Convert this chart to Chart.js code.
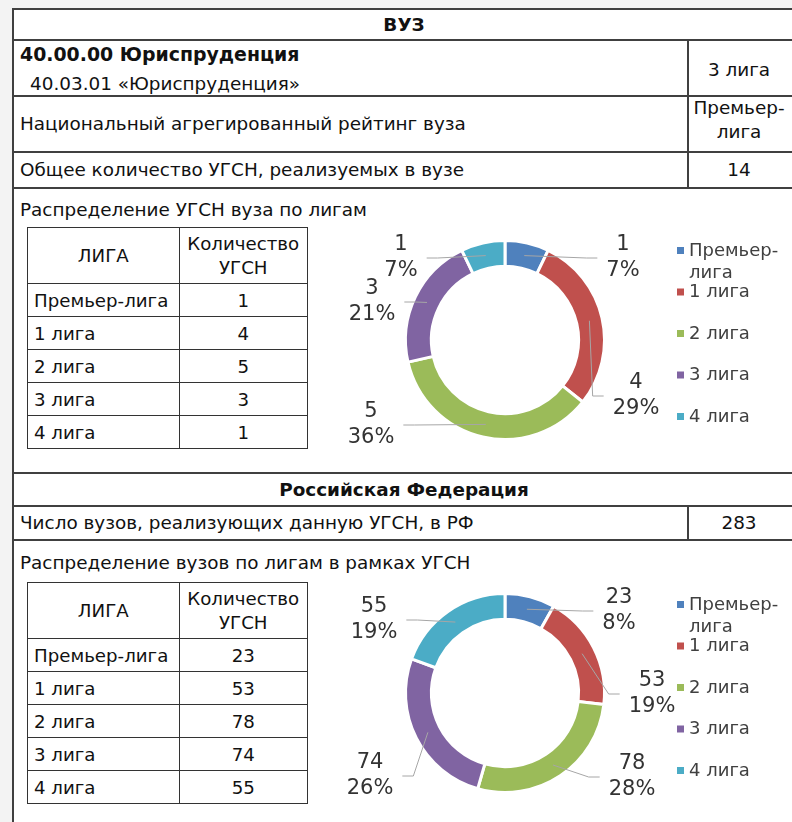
<!DOCTYPE html>
<html>
<head>
<meta charset="utf-8">
<script src="https://cdn.jsdelivr.net/npm/chart.js@4.4.1/dist/chart.umd.min.js"></script>
<style>
body { margin: 0; background: #f3f3f3; font-family: "DejaVu Sans", Verdana, sans-serif; color: #111; }
#sheet { position: absolute; left: 12px; top: 8px; width: 790px; height: 830px; background: #fff; }
.hl { position: absolute; left: 12px; width: 790px; height: 2px; background: #404040; }
.vl { position: absolute; width: 2px; background: #404040; }
.t { position: absolute; font-size: 18.4px; line-height: 24px; white-space: nowrap; }
.c { text-align: center; }
.b { font-weight: bold; }
table.inner { position: absolute; left: 27px; width: 281px; border-collapse: collapse; font-size: 18.2px; }
table.inner td { border: 1px solid #333; padding: 0 6px; height: 32px; }
table.inner tr.head td { height: 55px; text-align: center; line-height: 24px; }
table.inner td.num { text-align: center; }
canvas { position: absolute; left: 320px; }
</style>
</head>
<body>
<div id="sheet"></div>

<!-- outer table lines -->
<div class="hl" style="top:8px"></div>
<div class="vl" style="left:12px;top:8px;height:820px"></div>
<div class="hl" style="top:39px"></div>
<div class="hl" style="top:95px"></div>
<div class="hl" style="top:151px"></div>
<div class="hl" style="top:187px"></div>
<div class="hl" style="top:472px"></div>
<div class="hl" style="top:505px"></div>
<div class="hl" style="top:539px"></div>
<div class="vl" style="left:687px;top:39px;height:150px"></div>
<div class="vl" style="left:687px;top:505px;height:36px"></div>

<div class="t c b" style="left:14px;width:780px;top:13px">ВУЗ</div>
<div class="t b" style="left:20px;top:42px;font-size:18.9px">40.00.00 Юриспруденция</div>
<div class="t" style="left:30px;top:72px">40.03.01 «Юриспруденция»</div>
<div class="t c" style="left:689px;width:100px;top:58px">3 лига</div>
<div class="t" style="left:20px;top:112px">Национальный агрегированный рейтинг вуза</div>
<div class="t c" style="left:689px;width:100px;top:96px">Премьер-<br>лига</div>
<div class="t" style="left:20px;top:158px">Общее количество УГСН, реализуемых в вузе</div>
<div class="t c" style="left:689px;width:100px;top:158px">14</div>
<div class="t" style="left:20px;top:198px">Распределение УГСН вуза по лигам</div>

<div class="t c b" style="left:14px;width:780px;top:478px">Российская Федерация</div>
<div class="t" style="left:20px;top:511px">Число вузов, реализующих данную УГСН, в РФ</div>
<div class="t c" style="left:689px;width:100px;top:511px">283</div>
<div class="t" style="left:20px;top:551px">Распределение вузов по лигам в рамках УГСН</div>

<table class="inner" id="tab1" style="top:227px"></table>
<table class="inner" id="tab2" style="top:582px"></table>

<canvas id="chart1" width="472" height="255" style="top:215px"></canvas>
<canvas id="chart2" width="472" height="255" style="top:568px"></canvas>

<script>
const leagues = ['Премьер-лига', '1 лига', '2 лига', '3 лига', '4 лига'];
const legendLines = [['Премьер-', 'лига'], ['1 лига'], ['2 лига'], ['3 лига'], ['4 лига']];
const vuzCounts = [1, 4, 5, 3, 1];
const rfCounts = [23, 53, 78, 74, 55];
const colors = ['#4F81BD', '#C0504D', '#9BBB59', '#8064A2', '#4BACC6'];

// where Excel put the data labels, relative to the ring centre
const labelPos1 = [[118, -82], [131, 56], [-134, 85], [-133, -38], [-104, -82]];
const labelPos2 = [[114, -82], [147, 1], [127, 84], [-135, 83], [-131, -73]];

function fillTable(id, counts) {
    let html = '<tr class="head"><td>ЛИГА</td><td>Количество<br>УГСН</td></tr>';
    leagues.forEach((name, i) => {
        html += '<tr><td>' + name + '</td><td class="num">' + counts[i] + '</td></tr>';
    });
    document.getElementById(id).innerHTML = html;
}
fillTable('tab1', vuzCounts);
fillTable('tab2', rfCounts);

const excelLabels = {
    id: 'excelLabels',
    afterDraw(chart, args, opts) {
        const ctx = chart.ctx;
        const meta = chart.getDatasetMeta(0);
        const data = chart.data.datasets[0].data;
        const total = data.reduce((a, b) => a + b, 0);
        ctx.save();
        ctx.font = '21px "DejaVu Sans"';
        meta.data.forEach((arc, i) => {
            const p = arc.getProps(['x', 'y', 'startAngle', 'endAngle', 'innerRadius', 'outerRadius'], true);
            const mid = (p.startAngle + p.endAngle) / 2;
            const r = (p.innerRadius + p.outerRadius) / 2;
            const ax = p.x + Math.cos(mid) * r;
            const ay = p.y + Math.sin(mid) * r;
            const lines = [String(data[i]), Math.round(data[i] / total * 100) + '%'];
            const cx = p.x + opts.pos[i][0];
            const cy = p.y + opts.pos[i][1];
            const w = Math.max(...lines.map(s => ctx.measureText(s).width));
            const dir = opts.pos[i][0] > 0 ? -1 : 1;
            const ex = cx + dir * (w / 2 + 9);
            ctx.strokeStyle = '#a6a6a6';
            ctx.lineWidth = 1;
            ctx.beginPath();
            ctx.moveTo(ax, ay);
            ctx.lineTo(ex + dir * 11, cy);
            ctx.lineTo(ex, cy);
            ctx.stroke();
            ctx.fillStyle = '#333333';
            ctx.textAlign = 'center';
            ctx.textBaseline = 'middle';
            ctx.fillText(lines[0], cx, cy - 13);
            ctx.fillText(lines[1], cx, cy + 13);
        });
        // legend
        ctx.font = '18px "DejaVu Sans"';
        ctx.textAlign = 'left';
        legendLines.forEach((ls, i) => {
            const y = opts.legendTop + i * 41.5;
            ctx.fillStyle = colors[i];
            ctx.fillRect(357, y - 4, 7, 7);
            ctx.fillStyle = '#404040';
            ls.forEach((s, k) => ctx.fillText(s, 369, y + k * 22));
        });
        ctx.restore();
    }
};

function makeChart(id, counts, pos, legendTop) {
    return new Chart(document.getElementById(id), {
        type: 'doughnut',
        data: {
            labels: leagues,
            datasets: [{
                data: counts,
                backgroundColor: colors,
                borderColor: '#ffffff',
                borderWidth: 3
            }]
        },
        options: {
            responsive: false,
            animation: false,
            cutout: '74%',
            layout: { padding: { left: 0, right: 102, top: 24, bottom: 29 } },
            plugins: {
                legend: { display: false },
                tooltip: { enabled: false },
                excelLabels: { pos: pos, legendTop: legendTop }
            }
        },
        plugins: [excelLabels]
    });
}

makeChart('chart1', vuzCounts, labelPos1, 36);
makeChart('chart2', rfCounts, labelPos2, 37);
</script>
</body>
</html>
